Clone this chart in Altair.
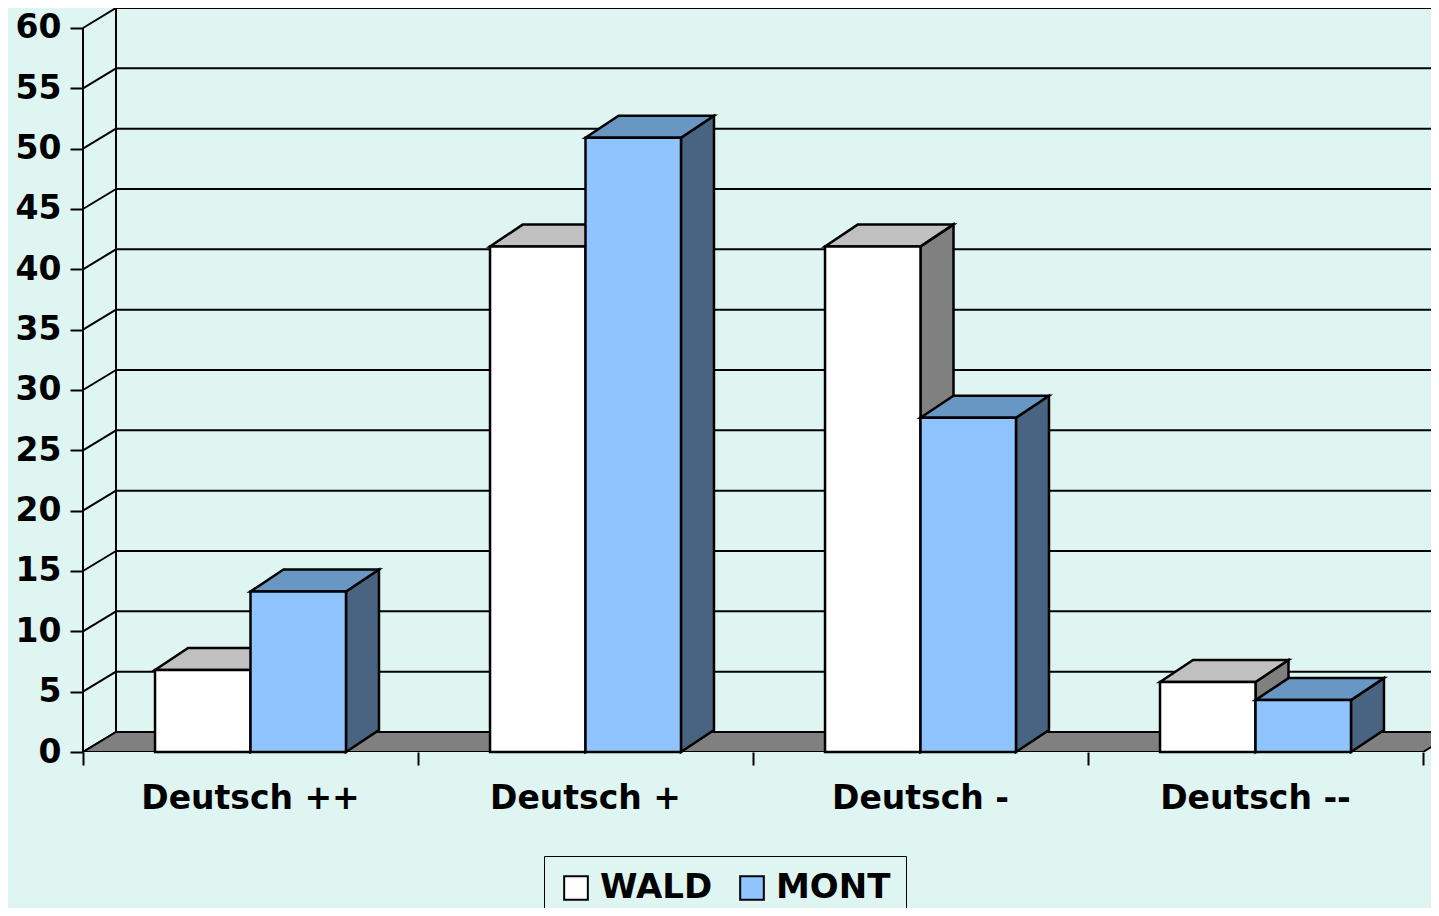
import altair as alt
import pandas as pd

# ---------------- data ----------------
categories = ["Deutsch ++", "Deutsch +", "Deutsch -", "Deutsch --"]
series = ["WALD", "MONT"]
wald = [6.8, 41.9, 41.9, 5.8]
mont = [13.3, 50.9, 27.7, 4.3]
y_ticks = [0, 5, 10, 15, 20, 25, 30, 35, 40, 45, 50, 55, 60]
x_ticks = [0, 1, 2, 3, 4]

values = {"WALD": wald, "MONT": mont}

FRONT = {"WALD": "#FFFFFF", "MONT": "#8FC4FF"}
TOP = {"WALD": "#C0C0C0", "MONT": "#6897C4"}
SIDE = {"WALD": "#808080", "MONT": "#486480"}
BG = "#DEF5F1"

# geometry (data units) for the pseudo-3D look
PLOT_W = 1348
X_MAX = PLOT_W / 335
Y_MAX = 61.657
DX = 33 / 335
DZ_GRID = 20 / 12.067
DZ_BAR = 22 / 12.067
BAR_EDGES = {"WALD": (0.215, 0.5), "MONT": (0.5, 0.785)}
LABEL_Y = -4.75
BAR_STROKE = 2.5

FONT = "DejaVu Sans"

xs = alt.Scale(domain=[0, X_MAX], nice=False, zero=False)
ys = alt.Scale(domain=[0, Y_MAX], nice=False, zero=False)

X_AX = alt.Axis(values=x_ticks, labels=False, domain=False, grid=False,
                ticks=True, tickSize=13, tickWidth=2, tickColor="black", title=None)
Y_AX = alt.Axis(values=y_ticks, domain=False, grid=False, ticks=True, tickSize=13,
                tickWidth=2, tickColor="black", labelFont=FONT, labelFontWeight="bold",
                labelFontSize=33, labelColor="black", labelPadding=9, title=None)


def X(f):
    return alt.X(f, type="quantitative", scale=xs, axis=X_AX)


def Y(f):
    return alt.Y(f, type="quantitative", scale=ys, axis=Y_AX)


# ---------------- background structures ----------------
grid_df = pd.DataFrame({
    "v": y_ticks,
    "yb": [v + DZ_GRID for v in y_ticks],
    "xa": [DX] * len(y_ticks),
    "xb": [X_MAX] * len(y_ticks),
    "x0": [0.0] * len(y_ticks),
})

gridlines = alt.Chart(grid_df).mark_rule(color="black", strokeWidth=2, clip=True).encode(
    x=X("xa"), x2="xb", y=Y("yb"))

diagonals = alt.Chart(grid_df).mark_rule(color="black", strokeWidth=2).encode(
    x=X("x0"), x2="xa", y=Y("v"), y2="yb")

walls_df = pd.DataFrame({
    "x": [0.0, DX],
    "y": [0.0, DZ_GRID],
    "y2": [60.0, 60.0 + DZ_GRID],
})
walls = alt.Chart(walls_df).mark_rule(color="black", strokeWidth=2).encode(
    x=X("x"), y=Y("y"), y2="y2")

floor_df = pd.DataFrame({
    "y": [0.0, DZ_GRID],
    "xl": [0.0, DX],
    "xr": [4.0, 4.0 + DX],
})
floor = alt.Chart(floor_df).mark_area(
    orient="horizontal", fill="#808080", stroke="black", strokeWidth=2, clip=True
).encode(y=Y("y"), x=X("xl"), x2="xr")

# ---------------- bars ----------------
layers = [gridlines, diagonals, walls, floor]

for s in series:
    lo, hi = BAR_EDGES[s]
    front_rows, top_rows, side_rows = [], [], []
    for i, (cat, v) in enumerate(zip(categories, values[s])):
        xl, xr = i + lo, i + hi
        bid = f"{s}-{i}"
        front_rows.append({"series": s, "cat": cat, "xl": xl, "xr": xr, "y0": 0.0, "v": v})
        top_rows.append({"id": bid, "y": v, "xl": xl, "xr": xr})
        top_rows.append({"id": bid, "y": v + DZ_BAR, "xl": xl + DX, "xr": xr + DX})
        side_rows.append({"id": bid, "x": xr, "y": 0.0, "y2": v})
        side_rows.append({"id": bid, "x": xr + DX, "y": DZ_BAR, "y2": v + DZ_BAR})

    side = alt.Chart(pd.DataFrame(side_rows)).mark_area(
        orient="vertical", fill=SIDE[s], stroke="black", strokeWidth=BAR_STROKE
    ).encode(x=X("x"), y=Y("y"), y2="y2", detail="id:N")

    top = alt.Chart(pd.DataFrame(top_rows)).mark_area(
        orient="horizontal", fill=TOP[s], stroke="black", strokeWidth=BAR_STROKE
    ).encode(y=Y("y"), x=X("xl"), x2="xr", detail="id:N")

    front = alt.Chart(pd.DataFrame(front_rows)).mark_rect(
        stroke="black", strokeWidth=BAR_STROKE, opacity=1
    ).encode(
        x=X("xl"), x2="xr", y=Y("y0"), y2="v",
        color=alt.Color(
            "series:N",
            scale=alt.Scale(domain=series, range=[FRONT[k] for k in series]),
            legend=alt.Legend(
                title=None, orient="none", legendX=461, legendY=848,
                direction="horizontal", symbolType="square", symbolSize=560,
                symbolStrokeColor="black", symbolStrokeWidth=2, symbolOpacity=1,
                labelFont=FONT, labelFontWeight="bold", labelFontSize=34,
                labelColor="black", labelOffset=7, columnPadding=22, padding=15,
                fillColor=BG, strokeColor="black",
            ),
        ),
    )
    layers += [side, top, front]

# ---------------- category labels ----------------
lab_df = pd.DataFrame({
    "cat": categories,
    "xc": [i + 0.5 for i in range(len(categories))],
    "y": [LABEL_Y] * len(categories),
})
labels = alt.Chart(lab_df).mark_text(
    font=FONT, fontWeight="bold", fontSize=33, color="black",
    align="center", baseline="alphabetic"
).encode(x=X("xc"), y=Y("y"), text="cat:N")
layers.append(labels)

chart = alt.layer(*layers).properties(
    width=PLOT_W,
    height=744,
    padding={"left": 75, "top": 0, "right": 0, "bottom": 156},
    autosize=alt.AutoSizeParams(type="none"),
    background=BG,
).configure_view(strokeWidth=0)

chart.save("out.html", embed_options={"renderer": "svg", "actions": False})
